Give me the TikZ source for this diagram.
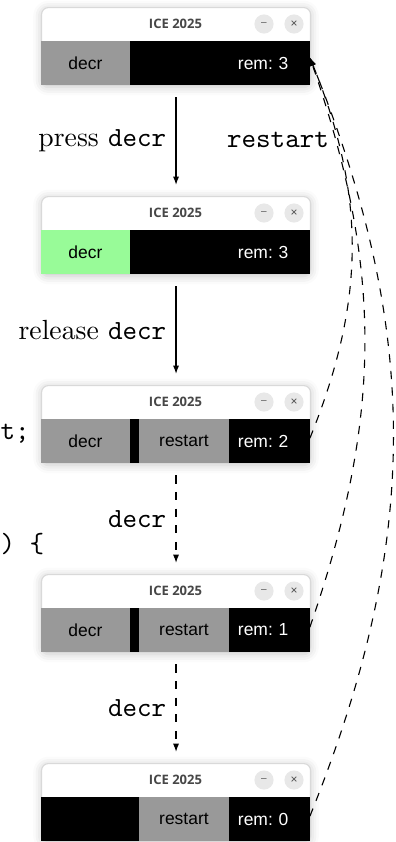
\documentclass[tikz,border=0pt]{standalone}
\usepackage{fontspec}
\newfontfamily\uifont{Liberation Sans}
\newfontfamily\titlefont{Open Sans}
\usetikzlibrary{positioning, arrows.meta, shadows.blur}
\definecolor{segGray}{RGB}{153,153,153}
\definecolor{segGreen}{RGB}{152,251,152}
\definecolor{btnGray}{RGB}{232,232,232}
\tikzset{
  frame/.style={draw=black!15, fill=white, rounded corners=2.5pt, anchor=north west,
      minimum width=97.1pt, minimum height=28.2pt, inner sep=0pt,
      blur shadow={shadow xshift=0pt, shadow yshift=-0.5pt, shadow blur radius=3pt, shadow opacity=22}},
  title/.style={font=\titlefont\bfseries\fontsize{4.7}{5}\selectfont, text=black!72},
  btn/.style={circle, fill=btnGray, minimum size=6.9pt, inner sep=0pt,
      font=\uifont\fontsize{4.3}{5}\selectfont, text=black!70},
  seg/.style={minimum height=15.9pt, inner sep=0pt, outer sep=0pt,
      font=\uifont\fontsize{6.3}{7}\selectfont\frenchspacing},
  keyseg/.style={seg, fill=segGray, minimum width=32.1pt},
  pressseg/.style={seg, fill=segGreen, minimum width=32.1pt},
  gapseg/.style={seg, fill=black, minimum width=3.25pt},
  darkseg/.style={seg, fill=black, minimum width=32.5pt},
  restseg/.style={seg, fill=segGray, minimum width=32.5pt},
  remseg/.style={seg, fill=black, text=white, minimum width=29.2pt, text width=22.7pt,
      inner xsep=3.25pt, align=left},
  flow/.style={-{Latex[length=3pt,width=2.2pt]}, shorten <=4pt, shorten >=4pt},
  jump/.style={flow, dashed},
  restartarc/.style={dashed, -{Latex[length=3pt,width=2.2pt]}},
}
\newcommand{\minbtn}{\raisebox{-0.9pt}{\fontsize{3.6}{4}\selectfont –}}
\begin{document}
\begin{tikzpicture}[x=0.361pt, y=-0.361pt]
  \useasboundingbox (0,0) rectangle (395,842);
  % cut-off code on the left
  \node[anchor=base west, inner sep=0pt] (code1) at (0,439) {\texttt{t;}};
  \node[anchor=base west, inner sep=0pt] (code2) at (0,552) {\texttt{) \{}};
  % Window 1
  \node[frame] (w1) at (41,7) {};
  \node[title] (w1t) at (175.5,24) {ICE 2025};
  \node[btn] (w1m) at (264,24) {\minbtn};
  \node[btn] (w1x) at (294,24) {×};
  \node[keyseg, anchor=north west] (w1a) at (41,41) {decr};
  \node[gapseg, right=0pt of w1a] (w1b) {};
  \node[darkseg, right=0pt of w1b] (w1c) {};
  \node[remseg, right=0pt of w1c] (w1d) {rem: 3};
  % Window 2
  \node[frame] (w2) at (41,196) {};
  \node[title] (w2t) at (175.5,213) {ICE 2025};
  \node[btn] (w2m) at (264,213) {\minbtn};
  \node[btn] (w2x) at (294,213) {×};
  \node[pressseg, anchor=north west] (w2a) at (41,230) {decr};
  \node[gapseg, right=0pt of w2a] (w2b) {};
  \node[darkseg, right=0pt of w2b] (w2c) {};
  \node[remseg, right=0pt of w2c] (w2d) {rem: 3};
  % Window 3
  \node[frame] (w3) at (41,385) {};
  \node[title] (w3t) at (175.5,402) {ICE 2025};
  \node[btn] (w3m) at (264,402) {\minbtn};
  \node[btn] (w3x) at (294,402) {×};
  \node[keyseg, anchor=north west] (w3a) at (41,419) {decr};
  \node[gapseg, right=0pt of w3a] (w3b) {};
  \node[restseg, right=0pt of w3b] (w3c) {restart};
  \node[remseg, right=0pt of w3c] (w3d) {rem: 2};
  % Window 4
  \node[frame] (w4) at (41,574) {};
  \node[title] (w4t) at (175.5,591) {ICE 2025};
  \node[btn] (w4m) at (264,591) {\minbtn};
  \node[btn] (w4x) at (294,591) {×};
  \node[keyseg, anchor=north west] (w4a) at (41,608) {decr};
  \node[gapseg, right=0pt of w4a] (w4b) {};
  \node[restseg, right=0pt of w4b] (w4c) {restart};
  \node[remseg, right=0pt of w4c] (w4d) {rem: 1};
  % Window 5
  \node[frame] (w5) at (41,763) {};
  \node[title] (w5t) at (175.5,780) {ICE 2025};
  \node[btn] (w5m) at (264,780) {\minbtn};
  \node[btn] (w5x) at (294,780) {×};
  \node[seg, fill=black, minimum width=32.1pt, anchor=north west] (w5a) at (41,797) {};
  \node[gapseg, right=0pt of w5a] (w5b) {};
  \node[restseg, right=0pt of w5b] (w5c) {restart};
  \node[remseg, right=0pt of w5c] (w5d) {rem: 0};
  % steps
  \draw[flow] (w1.south) -- (w2.north) node[midway, left] (l1) {press \texttt{decr}};
  \draw[flow] (w2.south) -- (w3.north) node[midway, left] (l2) {release \texttt{decr}};
  \draw[jump] (w3.south) -- (w4.north) node[midway, left] (l3) {\texttt{decr}};
  \draw[jump] (w4.south) -- (w5.north) node[midway, left] (l4) {\texttt{decr}};
  % restart
  \draw[restartarc] ([yshift=1pt]w3d.east) .. controls +(56,-138) and +(56,138) .. ([yshift=2pt]w1d.east);
  \draw[restartarc] ([yshift=1pt]w4d.east) .. controls +(73,-211) and +(73,211) .. ([yshift=2pt]w1d.east);
  \draw[restartarc] ([yshift=1pt]w5d.east) .. controls +(111,-275) and +(111,275) .. ([yshift=2pt]w1d.east);
  \node (lrestart) at (278,140) {\texttt{restart}};
\end{tikzpicture}
\end{document}
